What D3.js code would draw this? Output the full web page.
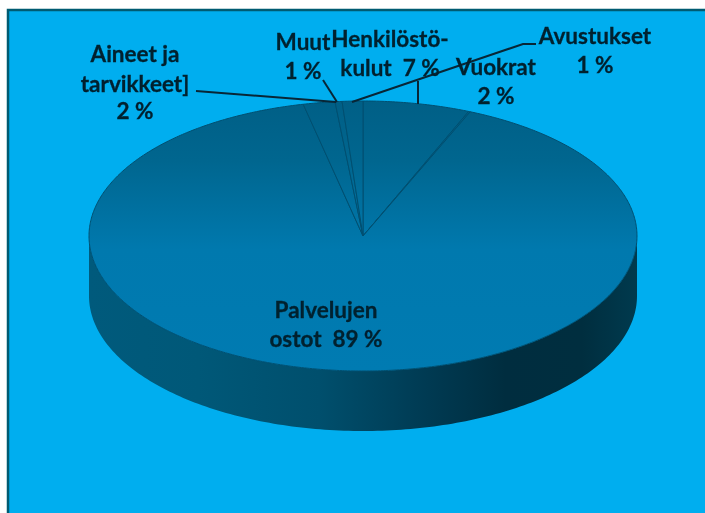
<!DOCTYPE html>
<html><head><meta charset="utf-8">
<script src="https://cdn.jsdelivr.net/npm/d3@7/dist/d3.min.js"></script>
<style>html,body{margin:0;padding:0;background:#fff;overflow:hidden}svg{display:block}</style>
</head><body><div id="c"></div>
<script>
// Data
const categories = ["Henkilöstökulut","Vuokrat","Palvelujen ostot","Aineet ja tarvikkeet","Muut","Avustukset"];
const printedPercent = [7,2,89,2,1,1];
const measuredShare = [6.3,0.1,90.1,1.87,0.41,1.22];

const labelLines = [
  ["Henkilöstö-","kulut  7 %"],
  ["Vuokrat","2 %"],
  ["Palvelujen","ostot  89 %"],
  ["Aineet ja","tarvikkeet]","2 %"],
  ["Muut","1 %"],
  ["Avustukset","1 %"]
];
const labelX = [390,496,326,135,303,595];
const labelY = [[47,76],[75,104],[318,347],[62,92,119],[50,79],[44,73]];
const leaders = [
  [[418,104],[418,81]],
  [],
  [],
  [[196,91],[336,102]],
  [[323,80],[337,102]],
  [[352,102],[523,44],[536,44]]
];

const W=705,H=513;
const svg=d3.select("#c").append("svg").attr("width",W).attr("height",H);
const defs=svg.append("defs");

const cx=363,cy=236,rx=274,ry=135,depth=60;
const xs=d3.scaleLinear().domain([-1,1]).range([cx-rx,cx+rx]);
const ys=d3.scaleLinear().domain([-1,1]).range([cy+ry,cy-ry]);
const px=a=>xs(Math.sin(a)), py=a=>ys(Math.cos(a));

const topGrad=defs.append("linearGradient").attr("id","topG").attr("gradientUnits","userSpaceOnUse")
  .attr("x1",0).attr("x2",0).attr("y1",cy-ry).attr("y2",cy+ry);
[[0,"#005f86"],[0.22,"#00668f"],[0.55,"#0079ae"],[1,"#007bb2"]].forEach(d=>topGrad.append("stop").attr("offset",d[0]).attr("stop-color",d[1]));

const sideGrad=defs.append("linearGradient").attr("id","sideG").attr("gradientUnits","userSpaceOnUse")
  .attr("x1",cx-rx).attr("x2",cx+rx).attr("y1",0).attr("y2",0);
[[0,"#005a7c"],[0.2,"#005878"],[0.42,"#004f6d"],[0.62,"#003a52"],[0.76,"#002d3f"],[0.9,"#002e3f"],[1,"#003a4e"]]
  .forEach(d=>sideGrad.append("stop").attr("offset",d[0]).attr("stop-color",d[1]));

defs.append("filter").attr("id","soft").attr("x","-5%").attr("y","-20%").attr("width","110%").attr("height","140%")
  .append("feGaussianBlur").attr("stdDeviation",0.5);

// Frame
svg.append("rect").attr("x",8).attr("y",10).attr("width",W).attr("height",H)
  .attr("fill","#00aeef").attr("stroke","#005b72").attr("stroke-width",2.5);

// Side wall
const front=d3.range(90,270.5,1).map(d=>d*Math.PI/180);
svg.append("path").datum(front)
  .attr("d",d3.area().x(px).y0(py).y1(a=>py(a)+depth).curve(d3.curveLinear))
  .attr("fill","url(#sideG)");

// Slices on top face
const pie=d3.pie().sort(null).startAngle(0).endAngle(2*Math.PI);
const arcs=pie(measuredShare);
const sliceLine=d3.line().x(d=>d[0]).y(d=>d[1]);
function slicePath(d){
  const n=Math.max(2,Math.ceil((d.endAngle-d.startAngle)/0.01));
  const pts=[[xs(0),ys(0)]];
  d3.range(n+1).forEach(i=>{const a=d.startAngle+(d.endAngle-d.startAngle)*i/n;pts.push([px(a),py(a)]);});
  return sliceLine(pts)+"Z";
}
svg.append("g").selectAll("path").data(arcs).join("path")
  .attr("d",slicePath).attr("fill","url(#topG)")
  .attr("stroke","#004f70").attr("stroke-width",1).attr("stroke-linejoin","round");

// Leader lines
svg.append("g").selectAll("path").data(leaders.filter(l=>l.length)).join("path")
  .attr("d",sliceLine).attr("fill","none").attr("stroke","#082636").attr("stroke-width",2);

// Labels
const g=svg.append("g").attr("filter","url(#soft)")
  .attr("font-family","Lato,'Open Sans',sans-serif").attr("font-weight",700)
  .attr("font-size",22.5).attr("fill","#04202f").attr("stroke","#04202f").attr("stroke-width",0.3).attr("text-anchor","middle");
categories.forEach((c,i)=>{
  labelLines[i].forEach((t,j)=>{
    g.append("text").attr("x",labelX[i]).attr("y",labelY[i][j]).style("white-space","pre").text(t);
  });
});
</script></body></html>
